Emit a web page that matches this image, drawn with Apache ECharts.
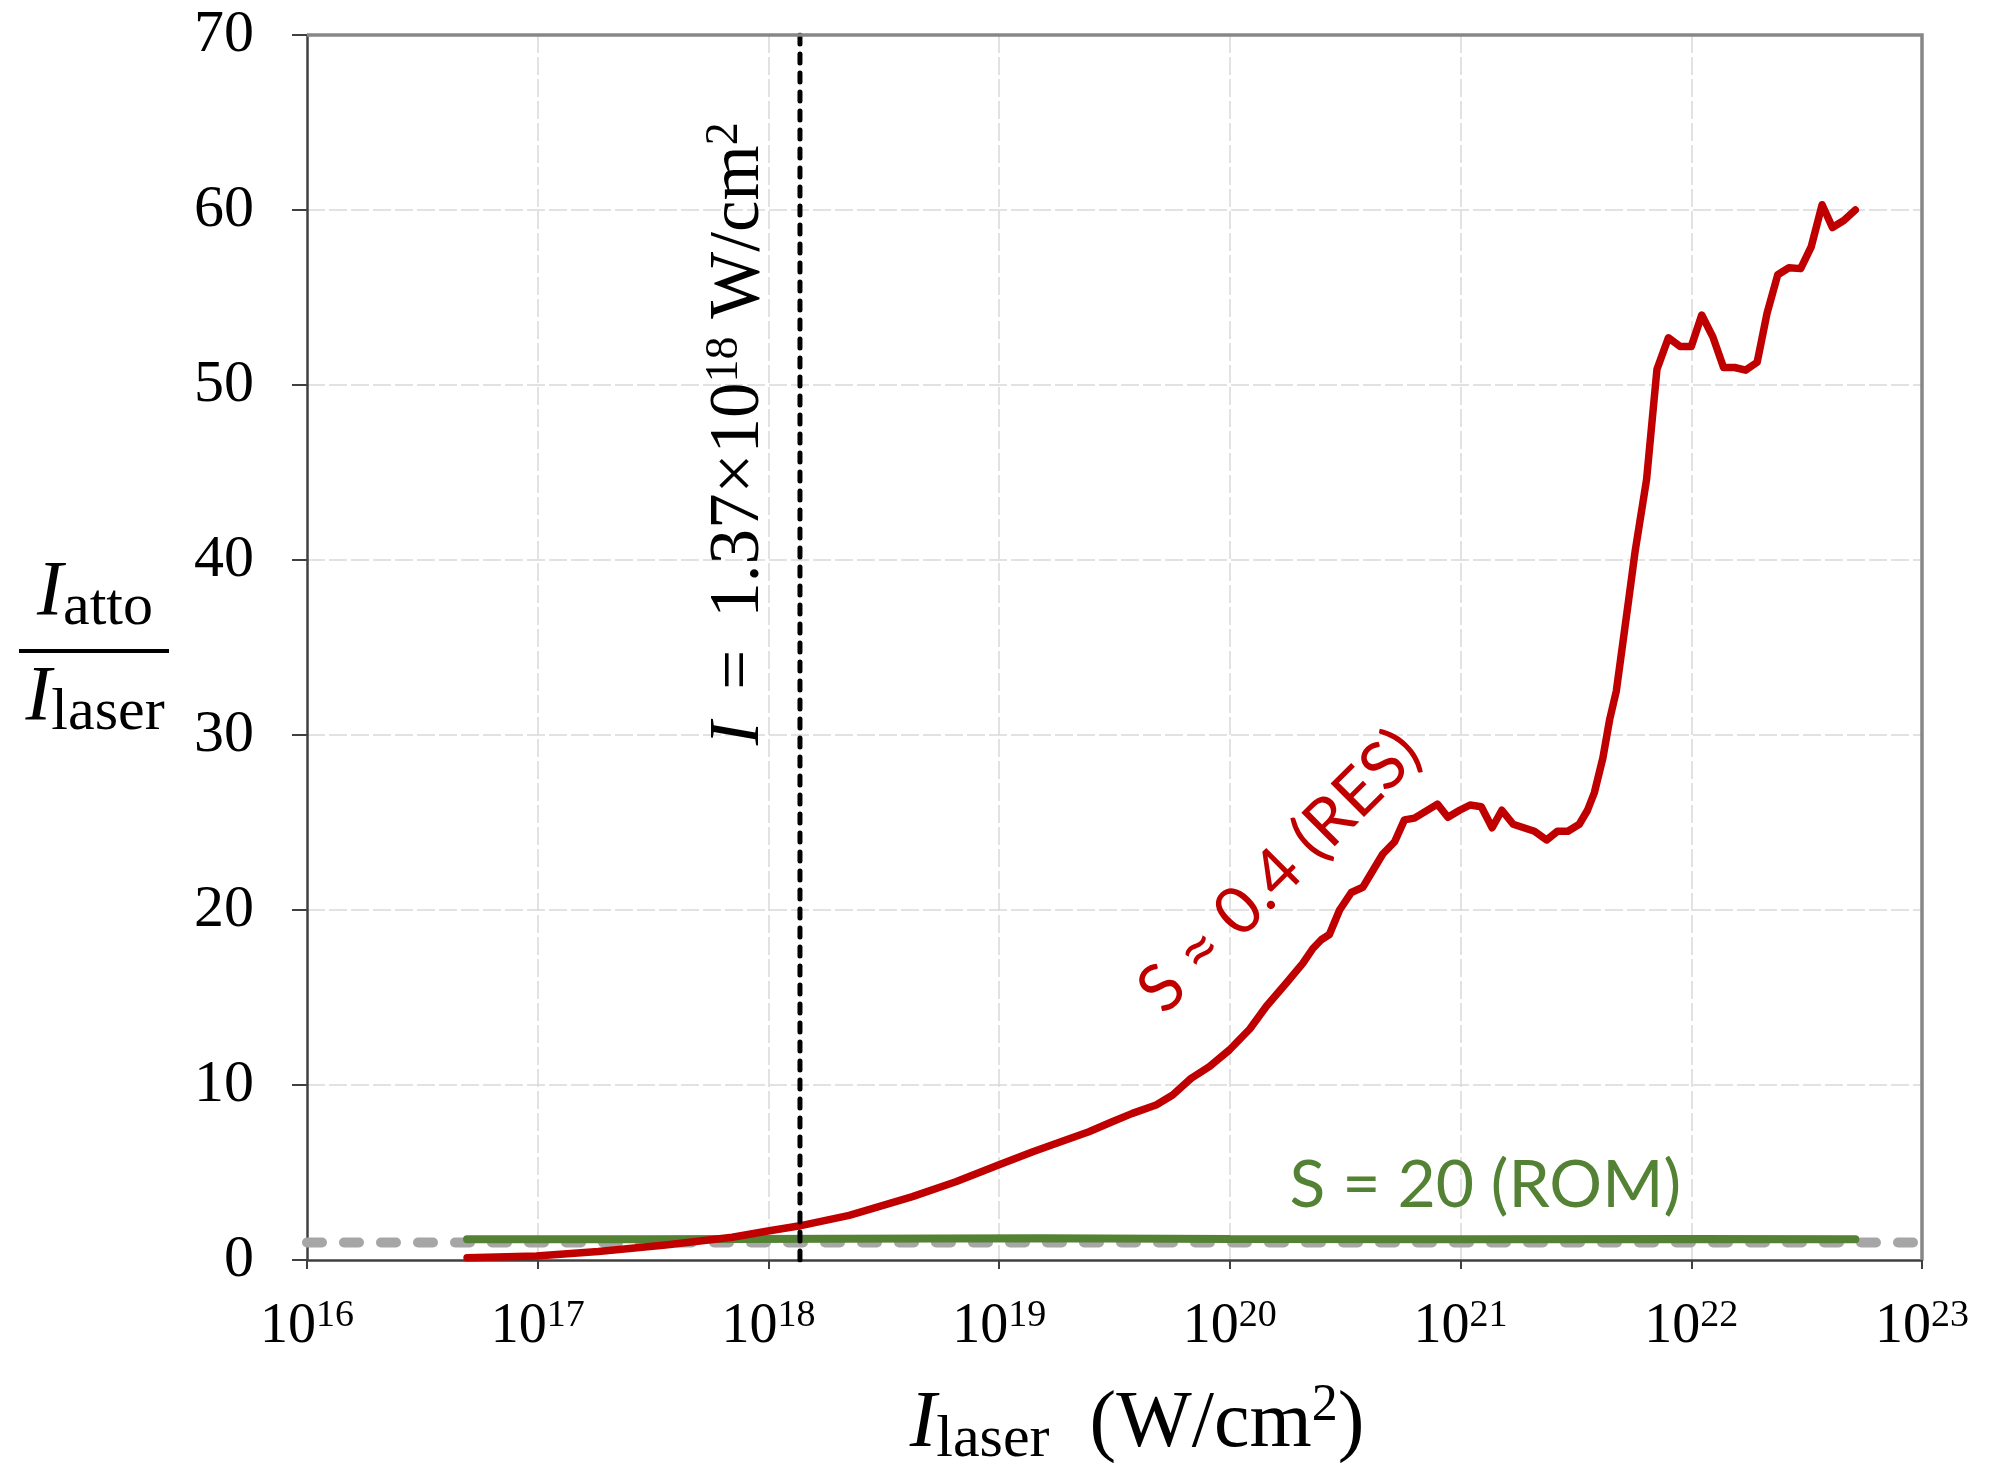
<!DOCTYPE html>
<html><head><meta charset="utf-8">
<script src="https://cdn.jsdelivr.net/npm/echarts@6/dist/echarts.min.js"></script>
<style>html,body{margin:0;padding:0;background:#fff}#c{width:1995px;height:1463px}</style>
</head><body><div id="c"></div>
<script>
// ---- data ----
const xTickExponents = [16, 17, 18, 19, 20, 21, 22, 23];
const yTicks = [0, 10, 20, 30, 40, 50, 60, 70];

// S ≈ 0.4 (RES) curve: laser intensity (W/cm^2) and Iatto/Ilaser
const resIntensity = [4.94e16, 9.86e16, 1.83e17, 3.58e17, 6.97e17, 9.95e17, 1.35e18, 2.24e18, 3.01e18, 4.21e18,
  6.49e18, 9.93e18, 1.40e19, 1.85e19, 2.45e19, 3.09e19, 3.78e19, 4.79e19, 5.65e19, 6.79e19,
  8.15e19, 9.95e19, 1.22e20, 1.44e20, 1.75e20, 2.07e20, 2.29e20, 2.49e20, 2.70e20, 2.99e20,
  3.36e20, 3.77e20, 4.60e20, 5.18e20, 5.71e20, 6.31e20, 7.94e20, 8.81e20, 9.91e20, 1.10e21,
  1.23e21, 1.37e21, 1.51e21, 1.69e21, 2.09e21, 2.36e21, 2.63e21, 2.92e21, 3.27e21, 3.55e21,
  3.80e21, 4.14e21, 4.43e21, 4.73e21, 5.35e21, 5.71e21, 6.40e21, 7.10e21, 7.96e21, 8.95e21,
  1.00e22, 1.11e22, 1.24e22, 1.38e22, 1.54e22, 1.72e22, 1.93e22, 2.13e22, 2.37e22, 2.65e22,
  2.98e22, 3.31e22, 3.69e22, 4.09e22, 4.58e22, 5.14e22];
const resRatio = [0.13, 0.23, 0.48, 0.86, 1.30, 1.66, 1.94, 2.55, 3.05, 3.62,
  4.47, 5.43, 6.19, 6.76, 7.33, 7.90, 8.38, 8.86, 9.43, 10.38,
  11.05, 12.0, 13.2, 14.5, 15.8, 16.95, 17.8, 18.3, 18.6, 20.0,
  21.0, 21.3, 23.2, 23.9, 25.15, 25.25, 26.05, 25.3, 25.7, 26.0,
  25.9, 24.7, 25.7, 24.9, 24.5, 24.0, 24.5, 24.5, 24.9, 25.7,
  26.7, 28.7, 30.9, 32.5, 37.7, 40.5, 44.6, 50.9, 52.7, 52.2,
  52.2, 54.0, 52.75, 51.0, 51.0, 50.85, 51.3, 54.1, 56.3, 56.7,
  56.65, 57.9, 60.3, 59.0, 59.4, 60.0];

// S = 20 (ROM) curve
const romIntensity = [4.94e16, 3.0e17, 2.0e18, 1.5e19, 1.0e20, 1.0e21, 1.0e22, 5.14e22];
const romRatio = [1.18, 1.18, 1.22, 1.25, 1.20, 1.18, 1.20, 1.18];

// reference level Iatto/Ilaser = 1
const refIntensity = [1e16, 1e23];
const refRatio = [1, 1];

// threshold intensity
const thresholdIntensity = 1.37e18;
const thresholdSpan = [0, 70];

// annotation texts
const resLabel = 'S ≈ 0.4 (RES)';
const romLabel = 'S = 20 (ROM)';

// ---- chart ----
const serif = '"Liberation Serif", "Times New Roman", serif';
const sans = 'Lato, "Open Sans", sans-serif';
const zip = (a, b) => a.map((v, i) => [v, b[i]]);

const chart = echarts.init(document.getElementById('c'), null, {renderer: 'canvas'});
const option = {
  animation: false,
  backgroundColor: '#ffffff',
  grid: {left: 307, right: 73, top: 35, bottom: 203, show: false},
  xAxis: {
    type: 'log', logBase: 10, min: 1e16, max: 1e23, splitNumber: 7,
    axisLine: {show: true, onZero: false, lineStyle: {color: '#404040', width: 2.5}},
    axisTick: {show: true, length: 9, lineStyle: {color: '#404040', width: 2}},
    minorTick: {show: false},
    splitLine: {show: true, showMinLine: false, showMaxLine: false,
      lineStyle: {color: '#d9d9d9', width: 1.5, type: [18, 4]}},
    axisLabel: {
      margin: 37, showMinLabel: true, showMaxLabel: true,
      formatter: function (v) {
        const e = Math.round(Math.log10(v));
        const lab = xTickExponents.indexOf(e) >= 0 ? String(e) : '';
        return '{b|10}{s|' + lab + '}';
      },
      rich: {
        b: {fontFamily: serif, fontSize: 56, lineHeight: 60, color: '#000'},
        s: {fontFamily: serif, fontSize: 38, lineHeight: 34, verticalAlign: 'top', color: '#000'}
      }
    }
  },
  yAxis: {
    type: 'value', min: yTicks[0], max: yTicks[yTicks.length - 1], interval: 10,
    axisLine: {show: true, lineStyle: {color: '#404040', width: 2.5}},
    axisTick: {show: true, length: 15, lineStyle: {color: '#404040', width: 2}},
    splitLine: {show: true, showMinLine: false, showMaxLine: false,
      lineStyle: {color: '#d9d9d9', width: 1.5, type: [18, 4]}},
    axisLabel: {margin: 53, fontFamily: serif, fontSize: 60, color: '#000'}
  },
  series: [
    {type: 'line', name: 'ref', data: zip(refIntensity, refRatio), symbol: 'none', silent: true, z: 2,
      lineStyle: {color: '#a6a6a6', width: 10, type: [15, 22], cap: 'round'}},
    {type: 'line', name: 'ROM', data: zip(romIntensity, romRatio), symbol: 'none', z: 3,
      lineStyle: {color: '#548235', width: 8, cap: 'round'}},
    {type: 'line', name: 'RES', data: zip(resIntensity, resRatio), symbol: 'none', z: 4,
      lineStyle: {color: '#c00000', width: 7.5, cap: 'round', join: 'round'}},
    {type: 'line', name: 'threshold', data: thresholdSpan.map(v => [thresholdIntensity, v]), symbol: 'none', z: 5,
      lineStyle: {color: '#000', width: 5, type: [9, 10], cap: 'round'}}
  ]
};
chart.setOption(option);

const px = (x, y) => chart.convertToPixel({gridIndex: 0}, [x, y]);
const thr = px(thresholdIntensity, 47.5);
const resPos = px(1.64e20, 22.2);
const romPos = px(1.28e21, 4.23);
const tl = px(1e16, 70), br = px(1e23, 0);

chart.setOption({
  graphic: [
    // top and right frame
    {type: 'polyline', z: 50, shape: {points: [[tl[0], tl[1]], [br[0], tl[1]], [br[0], br[1]]]},
      style: {stroke: '#878787', lineWidth: 3.5, fill: null}},
    // y-axis title: I_atto / I_laser
    {type: 'text', x: 95, y: 593, z: 100, style: {
      text: '{i|I}{u|atto}', align: 'center', verticalAlign: 'middle', fill: '#000',
      rich: {
        i: {fontFamily: serif, fontStyle: 'italic', fontSize: 78, lineHeight: 90, fill: '#000'},
        u: {fontFamily: serif, fontSize: 60, lineHeight: 60, verticalAlign: 'bottom', fill: '#000'}
      }}},
    {type: 'line', z: 100, shape: {x1: 19, y1: 651, x2: 169, y2: 651}, style: {stroke: '#000', lineWidth: 4}},
    {type: 'text', x: 95, y: 698, z: 100, style: {
      text: '{i|I}{u|laser}', align: 'center', verticalAlign: 'middle', fill: '#000',
      rich: {
        i: {fontFamily: serif, fontStyle: 'italic', fontSize: 78, lineHeight: 90, fill: '#000'},
        u: {fontFamily: serif, fontSize: 60, lineHeight: 60, verticalAlign: 'bottom', fill: '#000'}
      }}},
    // x-axis title
    {type: 'text', x: 1137, y: 1425, z: 100, style: {
      text: '{i|I}{u|laser}{n|  (W/cm}{p|2}{n|)}', align: 'center', verticalAlign: 'middle', fill: '#000',
      rich: {
        i: {fontFamily: serif, fontStyle: 'italic', fontSize: 80, lineHeight: 90, fill: '#000'},
        u: {fontFamily: serif, fontSize: 60, lineHeight: 58, verticalAlign: 'bottom', fill: '#000'},
        n: {fontFamily: serif, fontSize: 80, lineHeight: 90, fill: '#000'},
        p: {fontFamily: serif, fontSize: 52, lineHeight: 50, verticalAlign: 'top', fill: '#000'}
      }}},
    // threshold annotation (vertical)
    {type: 'text', x: thr[0] - 61, y: thr[1] + 5, rotation: Math.PI / 2, z: 100, style: {
      text: '{i|I}{n|\u2009 = \u20091.37×10}{p|18}{n| W/cm}{p|2}', align: 'center', verticalAlign: 'middle', fill: '#000',
      rich: {
        i: {fontFamily: serif, fontStyle: 'italic', fontSize: 71, lineHeight: 74, fill: '#000'},
        n: {fontFamily: serif, fontSize: 71, lineHeight: 74, fill: '#000'},
        p: {fontFamily: serif, fontSize: 46, lineHeight: 46, verticalAlign: 'top', fill: '#000'}
      }}},
    // curve labels
    {type: 'text', x: resPos[0], y: resPos[1], rotation: Math.PI / 4, z: 100, style: {
      text: resLabel, align: 'center', verticalAlign: 'middle', fill: '#c00000',
      fontFamily: sans, fontSize: 66}},
    {type: 'text', x: romPos[0], y: romPos[1], z: 100, style: {
      text: romLabel, align: 'center', verticalAlign: 'middle', fill: '#548235',
      fontFamily: sans, fontSize: 66}}
  ]
});
</script>
</body></html>
